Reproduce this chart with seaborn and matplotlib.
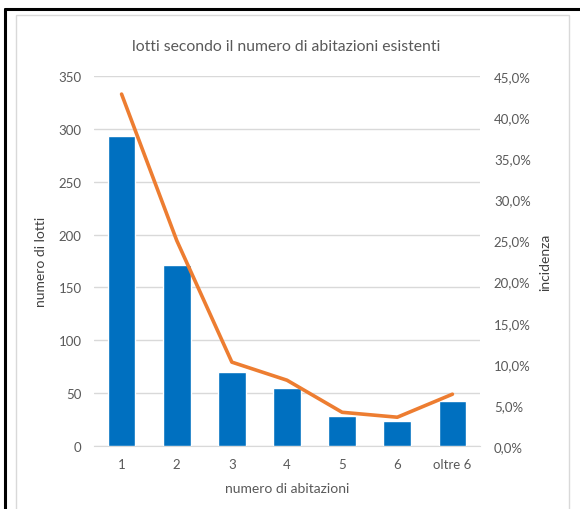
import matplotlib
matplotlib.use("Agg")
import matplotlib.pyplot as plt
from matplotlib.ticker import FuncFormatter, MultipleLocator
from matplotlib.lines import Line2D
from matplotlib.patches import Rectangle
import seaborn as sns

# dati
categorie = ['1', '2', '3', '4', '5', '6', 'oltre 6']
numero_lotti = [293, 171, 70, 55, 28, 24, 43]
incidenza = [42.8, 25.0, 10.2, 8.0, 4.1, 3.5, 6.3]

sns.set_style("white")
plt.rcParams['font.family'] = ['Lato', 'DejaVu Sans']

grigio = '#595959'
fig = plt.figure(figsize=(5.8, 5.1), dpi=100)
ax = fig.add_axes([94 / 580, 1 - 447 / 510, 386 / 580, 370 / 510])

sns.barplot(x=categorie, y=numero_lotti, color='#0070C0', width=0.5,
            saturation=1, ax=ax, zorder=3)
ax.set_ylim(0, 350)
ax.yaxis.set_major_locator(MultipleLocator(50))
ax.set_xlim(-0.5, 6.5)
ax.grid(axis='y', color='#D9D9D9', linewidth=1, zorder=0)
ax.set_axisbelow(True)
for s in ['top', 'left', 'right']:
    ax.spines[s].set_visible(False)
ax.spines['bottom'].set_color('#D9D9D9')
ax.tick_params(length=0, labelsize=9.5, colors=grigio, pad=9)
ax.set_xlabel('numero di abitazioni', fontsize=10, color=grigio, labelpad=8)
ax.set_ylabel('numero di lotti', fontsize=10, color='#404040', labelpad=8)

ax2 = ax.twinx()
sns.lineplot(x=categorie, y=incidenza, ax=ax2, color='#ED7D31',
             linewidth=2.6, sort=False, zorder=4)
ax2.set_ylim(0, 45)
ax2.yaxis.set_major_locator(MultipleLocator(5))
ax2.yaxis.set_major_formatter(FuncFormatter(lambda v, p: f"{v:.1f}%".replace('.', ',')))
for s in ax2.spines.values():
    s.set_visible(False)
ax2.tick_params(length=0, labelsize=9.5, colors=grigio, pad=10)
ax2.set_ylabel('incidenza', fontsize=10, color='#404040', labelpad=6)
ax2.grid(False)

fig.text(286 / 580, 1 - 47 / 510, 'lotti secondo il numero di abitazioni esistenti',
         ha='center', va='center', fontsize=11.3, color=grigio)

# cornice grigia del grafico e bordo nero
fig.add_artist(Rectangle((16 / 580, -0.05), (569 - 16) / 580, 1.05 - 16 / 510,
                         transform=fig.transFigure, fill=False,
                         edgecolor='#D9D9D9', linewidth=1))
fig.add_artist(Line2D([5 / 580, 1], [1 - 10 / 510, 1 - 10 / 510],
                      transform=fig.transFigure, color='black', linewidth=2.2))
fig.add_artist(Line2D([5 / 580, 5 / 580], [0, 1 - 10 / 510],
                      transform=fig.transFigure, color='black', linewidth=2.2))

fig.savefig('out.png', dpi=100)
